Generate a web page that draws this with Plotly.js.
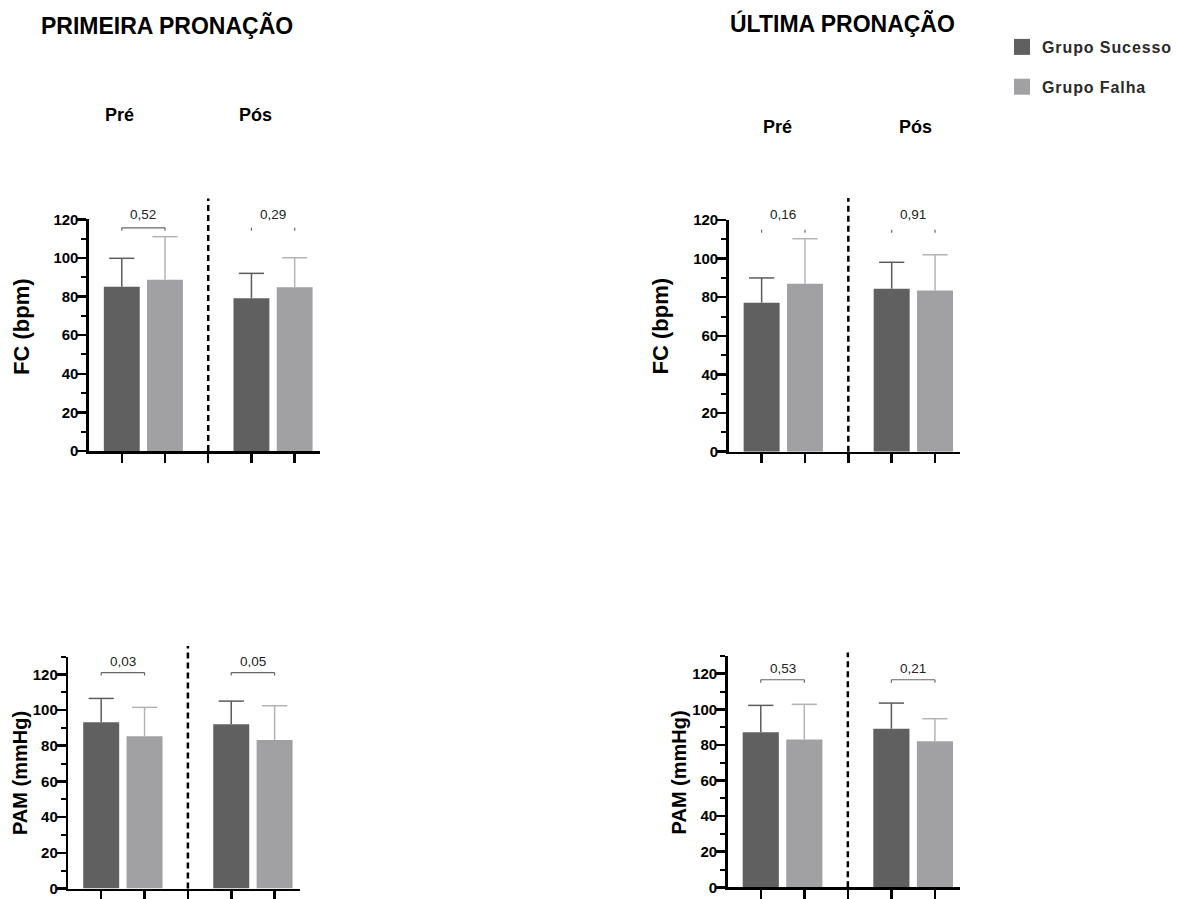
<!DOCTYPE html>
<html><head><meta charset="utf-8">
<script src="https://cdn.plot.ly/plotly-3.0.1.min.js"></script>
<style>html,body{margin:0;padding:0;background:#fff} .legendtext{letter-spacing:0.9px}</style>
</head><body><div id="chart" style="width:1177px;height:899px"></div>
<script>
// ---------------- DATA ----------------
const periods = ["Pré", "Pós"];
const groups = ["Grupo Sucesso", "Grupo Falha"];
const sectionTitles = ["PRIMEIRA PRONAÇÃO", "ÚLTIMA PRONAÇÃO"];
const yTickVals = [0, 20, 40, 60, 80, 100, 120];

// FC – primeira pronação
const fcPrimeiraSucessoMean = [85.1, 79.1];
const fcPrimeiraSucessoSD   = [14.7, 12.9];
const fcPrimeiraFalhaMean   = [88.7, 84.8];
const fcPrimeiraFalhaSD     = [22.3, 15.3];
const fcPrimeiraP           = ["0,52", "0,29"];
// FC – última pronação
const fcUltimaSucessoMean = [77.2, 84.4];
const fcUltimaSucessoSD   = [12.8, 13.7];
const fcUltimaFalhaMean   = [87.0, 83.5];
const fcUltimaFalhaSD     = [23.3, 18.5];
const fcUltimaP           = ["0,16", "0,91"];
// PAM – primeira pronação
const pamPrimeiraSucessoMean = [93.1, 92.0];
const pamPrimeiraSucessoSD   = [13.4, 13.0];
const pamPrimeiraFalhaMean   = [85.3, 83.2];
const pamPrimeiraFalhaSD     = [16.2, 19.2];
const pamPrimeiraP           = ["0,03", "0,05"];
// PAM – última pronação
const pamUltimaSucessoMean = [87.1, 89.1];
const pamUltimaSucessoSD   = [15.1, 14.4];
const pamUltimaFalhaMean   = [83.1, 82.0];
const pamUltimaFalhaSD     = [19.7, 12.7];
const pamUltimaP           = ["0,53", "0,21"];

// ---------------- LAYOUT HELPERS ----------------
const W = 1177, H = 899;
const FONT = "Arial, 'Liberation Sans', Helvetica, sans-serif";
const darkCol = "#606060", lightCol = "#a1a1a4";
const darkErr = "#5c5c5c", lightErr = "#b3b3b3";
const XR = [0.24, 5.58];

const panels = [
  {sm: fcPrimeiraSucessoMean, ssd: fcPrimeiraSucessoSD, fm: fcPrimeiraFalhaMean, fsd: fcPrimeiraFalhaSD, p: fcPrimeiraP,
   ytitle: "FC (bpm)", ytSize: 22, ymax: 120, xpx: [89, 320], ypx: [451, 219.3],
   brY: 115.6, txtY: 122.6, full: [true, false], dashTop: 1.09, ytitlePx: [21, 326]},
  {sm: fcUltimaSucessoMean, ssd: fcUltimaSucessoSD, fm: fcUltimaFalhaMean, fsd: fcUltimaFalhaSD, p: fcUltimaP,
   ytitle: "FC (bpm)", ytSize: 22, ymax: 120, xpx: [729.3, 961], ypx: [451.7, 220],
   brY: 115, txtY: 122.6, full: [false, false], dashTop: 1.095, ytitlePx: [661, 326]},
  {sm: pamPrimeiraSucessoMean, ssd: pamPrimeiraSucessoSD, fm: pamPrimeiraFalhaMean, fsd: pamPrimeiraFalhaSD, p: pamPrimeiraP,
   ytitle: "PAM (mmHg)", ytSize: 20, ymax: 130, xpx: [68.3, 300], ypx: [888.5, 656.5],
   brY: 121, txtY: 127.3, full: [true, true], dashTop: 1.045, ytitlePx: [20, 773]},
  {sm: pamUltimaSucessoMean, ssd: pamUltimaSucessoSD, fm: pamUltimaFalhaMean, fsd: pamUltimaFalhaSD, p: pamUltimaP,
   ytitle: "PAM (mmHg)", ytSize: 20, ymax: 130, xpx: [728.3, 961], ypx: [887.3, 655.9],
   brY: 116.6, txtY: 123, full: [true, true], dashTop: 1.015, ytitlePx: [680, 772]}
];

const traces = [];
const layout = {
  width: W, height: H, margin: {l: 0, r: 0, t: 0, b: 0},
  paper_bgcolor: "#fff", plot_bgcolor: "rgba(0,0,0,0)",
  barmode: "overlay", hovermode: false, showlegend: true,
  font: {family: FONT, color: "#000"},
  legend: {x: 1003 / W, y: 1 - 30 / H, xanchor: "left", yanchor: "top",
           font: {family: FONT, size: 16, weight: "bold", color: "#2a2a2a"},
           traceorder: "grouped", tracegroupgap: 16, bgcolor: "rgba(0,0,0,0)", borderwidth: 0},
  shapes: [], annotations: []
};

panels.forEach((pn, i) => {
  const n = i === 0 ? "" : String(i + 1);
  const xa = "x" + n, ya = "y" + n;
  const xSuc = periods.map((_, k) => 1 + 3 * k);
  const xFal = periods.map((_, k) => 2 + 3 * k);
  const series = [
    {x: xSuc, m: pn.sm, sd: pn.ssd, name: groups[0], lg: "a", col: darkCol, ecol: darkErr},
    {x: xFal, m: pn.fm, sd: pn.fsd, name: groups[1], lg: "b", col: lightCol, ecol: lightErr}
  ];
  series.forEach(s => {
    traces.push({
      type: "bar", x: s.x, y: s.m, width: 0.83, name: s.name, legendgroup: s.lg,
      showlegend: false, xaxis: xa, yaxis: ya, marker: {color: s.col, line: {width: 0}},
      error_y: {type: "data", symmetric: false, array: s.sd, arrayminus: s.sd.map(() => 0),
                color: s.ecol, thickness: 1.5, width: 0}
    });
    // error-bar caps (top only)
    traces.push({
      type: "scatter", mode: "markers", x: s.x, y: s.m.map((v, k) => v + s.sd[k]),
      xaxis: xa, yaxis: ya, showlegend: false, cliponaxis: false,
      marker: {symbol: "line-ew", size: 18, color: s.ecol, line: {width: 1.5, color: s.ecol}}
    });
    // legend entry (square swatch)
    if (i === 0) traces.push({
      type: "scatter", mode: "markers", x: [null], y: [null], name: s.name, legendgroup: s.lg,
      xaxis: xa, yaxis: ya, showlegend: true,
      marker: {symbol: "square", size: 16, color: s.col, line: {width: 0}}
    });
  });
  layout["xaxis" + n] = {
    domain: [pn.xpx[0] / W, pn.xpx[1] / W], range: XR, anchor: ya,
    showline: true, linecolor: "#000", linewidth: 2.5,
    ticks: "outside", ticklen: 9, tickwidth: 2.5, tickcolor: "#000",
    tickmode: "array", tickvals: [1, 2, 3, 4, 5], showticklabels: false,
    showgrid: false, zeroline: false, fixedrange: true
  };
  layout["yaxis" + n] = {
    domain: [1 - pn.ypx[0] / H, 1 - pn.ypx[1] / H], range: [0, pn.ymax], anchor: xa,
    showline: true, linecolor: "#000", linewidth: 2.5,
    ticks: "outside", ticklen: 9, tickwidth: 2.5, tickcolor: "#000",
    tickmode: "array", tickvals: yTickVals, ticklabeloverflow: "allow", ticklabelstandoff: -4,
    tickfont: {family: FONT, size: 15, weight: "bold", color: "#000"},
    minor: {tickmode: "linear", tick0: 0, dtick: 10, ticks: "outside", ticklen: 5, tickwidth: 2, tickcolor: "#000"},
    showgrid: false, zeroline: false, fixedrange: true
  };
  // dashed divider
  const xd = (3 - XR[0]) / (XR[1] - XR[0]);
  layout.shapes.push({type: "line", xref: xa + " domain", yref: ya + " domain",
    x0: xd, x1: xd, y0: 0, y1: pn.dashTop, line: {color: "#000", width: 2.5, dash: "6px,4px"}});
  // brackets + p-values
  periods.forEach((_, k) => {
    const xl = xSuc[k], xr = xFal[k];
    const tk = pn.ymax * 0.013;
    if (pn.full[k]) {
      layout.shapes.push({type: "line", xref: xa, yref: ya, x0: xl, x1: xr, y0: pn.brY, y1: pn.brY,
        line: {color: "#666", width: 1.2}});
    }
    [xl, xr].forEach(xx => layout.shapes.push({type: "line", xref: xa, yref: ya, x0: xx, x1: xx,
      y0: pn.brY, y1: pn.brY - tk, line: {color: "#666", width: 1.2}}));
    layout.annotations.push({xref: xa, yref: ya + " domain", x: (xl + xr) / 2, y: pn.txtY / pn.ymax,
      text: pn.p[k], showarrow: false, xanchor: "center", yanchor: "middle",
      font: {family: FONT, size: 13.5, color: "#222"}});
  });
  // y axis title
  layout.annotations.push({xref: "paper", yref: "paper", x: pn.ytitlePx[0] / W, y: 1 - pn.ytitlePx[1] / H,
    text: pn.ytitle, textangle: -90, showarrow: false, xanchor: "center", yanchor: "middle",
    font: {family: FONT, size: pn.ytSize, weight: "bold", color: "#000"}});
});

// section titles
[[167.5, 25], [843, 23.5]].forEach((pos, j) => layout.annotations.push({
  xref: "paper", yref: "paper", x: pos[0] / W, y: 1 - pos[1] / H, text: sectionTitles[j],
  showarrow: false, xanchor: "center", yanchor: "middle",
  font: {family: FONT, size: 23, weight: "bold", color: "#000"}}));
// period labels
[[[120, 115], [256, 115]], [[778, 127], [916, 127]]].forEach(set => set.forEach((pos, k) =>
  layout.annotations.push({xref: "paper", yref: "paper", x: pos[0] / W, y: 1 - pos[1] / H,
    text: periods[k], showarrow: false, xanchor: "center", yanchor: "middle",
    font: {family: FONT, size: 18, weight: "bold", color: "#000"}})));

Plotly.newPlot("chart", traces, layout, {displayModeBar: false, staticPlot: true});
</script>
</body></html>
